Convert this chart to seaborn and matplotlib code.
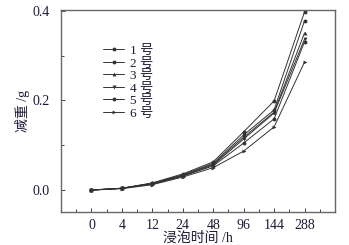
import matplotlib
matplotlib.use("Agg")
import matplotlib.pyplot as plt
import seaborn as sns
import pandas as pd
from matplotlib.ticker import FixedLocator

times = ["0", "4", "12", "24", "48", "96", "144", "288"]
s1 = [0.0, 0.004, 0.016, 0.036, 0.063, 0.130, 0.199, 0.398]
s2 = [0.0, 0.004, 0.015, 0.034, 0.060, 0.123, 0.179, 0.378]
s3 = [0.0, 0.004, 0.015, 0.033, 0.058, 0.118, 0.174, 0.351]
s4 = [0.0, 0.004, 0.014, 0.032, 0.056, 0.114, 0.172, 0.337]
s5 = [0.0, 0.004, 0.013, 0.031, 0.054, 0.105, 0.159, 0.331]
s6 = [0.0, 0.003, 0.012, 0.029, 0.050, 0.087, 0.141, 0.286]
names = ["1 号", "2 号", "3 号", "4 号", "5 号", "6 号"]
series = [s1, s2, s3, s4, s5, s6]
markers = ["o", "o", "^", "v", "o", ">"]

sns.set_theme(style="white")
plt.rcParams["font.family"] = ["Liberation Serif", "Noto Sans CJK SC"]

rows = []
for n, s in zip(names, series):
    for i, (t, v) in enumerate(zip(times, s)):
        rows.append({"pos": i, "time": t, "val": v, "name": n})
df = pd.DataFrame(rows)

fig = plt.figure(figsize=(3.49, 2.45), dpi=100)
ax = fig.add_axes([61/349, 1-212/245, (335-61)/349, (212-10)/245])

for n, m in zip(names, markers):
    d = df[df["name"] == n]
    sns.lineplot(data=d, x="pos", y="val", ax=ax, color="#333333", lw=0.7,
                 marker=m, markersize=2.8, markeredgewidth=0, label=n)

ax.set_xlim(-1, 8)
ax.set_ylim(-0.049, 0.402)
ax.xaxis.set_major_locator(FixedLocator(range(len(times))))
ax.set_xticklabels(times)
ax.xaxis.set_minor_locator(FixedLocator([i + 0.5 for i in range(-1, 8)]))
ax.yaxis.set_major_locator(FixedLocator([0.0, 0.2, 0.4]))
ax.set_yticklabels(["0.0", "0.2", "0.4"])
ax.yaxis.set_minor_locator(FixedLocator([0.1, 0.3]))
ax.tick_params(which="both", direction="in", color="#444444", width=0.7,
               labelsize=10, labelcolor="#1a1a3a")
ax.tick_params(which="major", length=3)
ax.tick_params(axis="x", which="major", pad=5)
ax.tick_params(axis="y", which="major", pad=8)
ax.tick_params(which="minor", length=2)
ax.tick_params(axis="y", which="both", left=True)
ax.tick_params(axis="x", which="both", bottom=True)
for sp in ax.spines.values():
    sp.set_color("#666666")
    sp.set_linewidth(1.0)

ax.set_xlabel("浸泡时间 /h", fontsize=10, color="#1a1a3a", labelpad=0)
ax.set_ylabel("减重 /g", fontsize=10, color="#1a1a3a", labelpad=2)

leg = ax.legend(loc="upper left", bbox_to_anchor=(0.13, 0.86), frameon=False,
                prop={"size": 9.5, "weight": "light"}, handlelength=1.6,
                handletextpad=0.4, labelspacing=0.02, borderpad=0)
for t in leg.get_texts():
    t.set_color("#1a1a3a")

fig.savefig("out.png", dpi=100)
